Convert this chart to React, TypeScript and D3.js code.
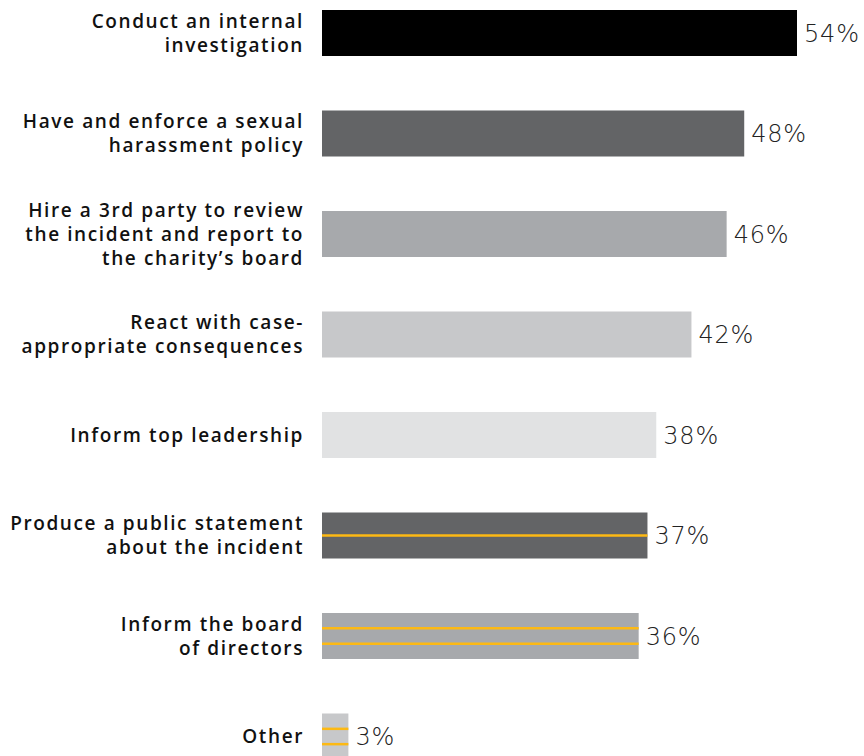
import React from "react";
import * as d3 from "d3";

const categories: string[][] = [
  ["Conduct an internal", "investigation"],
  ["Have and enforce a sexual", "harassment policy"],
  ["Hire a 3rd party to review", "the incident and report to", "the charity\u2019s board"],
  ["React with case-", "appropriate consequences"],
  ["Inform top leadership"],
  ["Produce a public statement", "about the incident"],
  ["Inform the board", "of directors"],
  ["Other"],
];
const values: number[] = [54, 48, 46, 42, 38, 37, 36, 3];
const barColors: string[] = ["#000000", "#636466", "#a7a9ac", "#c7c8ca", "#e1e2e3", "#636466", "#a7a9ac", "#c7c8ca"];
const stripeCounts: number[] = [0, 0, 0, 0, 0, 1, 2, 2];

export default function App() {
  const W = 864, H = 756;
  const ids = categories.map((_, i) => String(i));
  const y = d3.scaleBand<string>().domain(ids).range([10, 759.5]).paddingInner(0.5423).paddingOuter(0);
  const x = d3.scaleLinear().domain([0, 54]).range([322, 797]);
  const bw = y.bandwidth();
  const lineH = 24;
  return (
    <svg width={W} height={H} style={{ position: "absolute", left: 0, top: 0, background: "#fff" }}>
      {values.map((v, i) => {
        const top = y(String(i))!;
        const cy = top + bw / 2;
        const lines = categories[i];
        const n = stripeCounts[i];
        const stripes = d3.range(n).map((k) => top + (bw * (k + 1)) / (n + 1));
        return (
          <g key={i}>
            <rect x={x(0)} y={top} width={x(v) - x(0)} height={bw} fill={barColors[i]} />
            {stripes.map((sy, k) => (
              <line key={k} x1={x(0)} x2={x(v)} y1={sy} y2={sy} stroke="#fdb913" strokeWidth={2.5} />
            ))}
            {lines.map((t, k) => (
              <text
                key={k}
                x={304}
                y={cy + (k - (lines.length - 1) / 2) * lineH}
                dy="0.36em"
                textAnchor="end"
                fontFamily="'Open Sans', sans-serif"
                fontWeight={600}
                fontSize={19}
                letterSpacing={1.6}
                fill="#111"
              >
                {t}
              </text>
            ))}
            <text
              x={x(v) + 7}
              y={cy}
              dy="0.36em"
              fontFamily="'DejaVu Sans', sans-serif"
              fontWeight={200}
              fontSize={24}
              letterSpacing={0.8}
              fill="#222"
            >
              {v}%
            </text>
          </g>
        );
      })}
    </svg>
  );
}
